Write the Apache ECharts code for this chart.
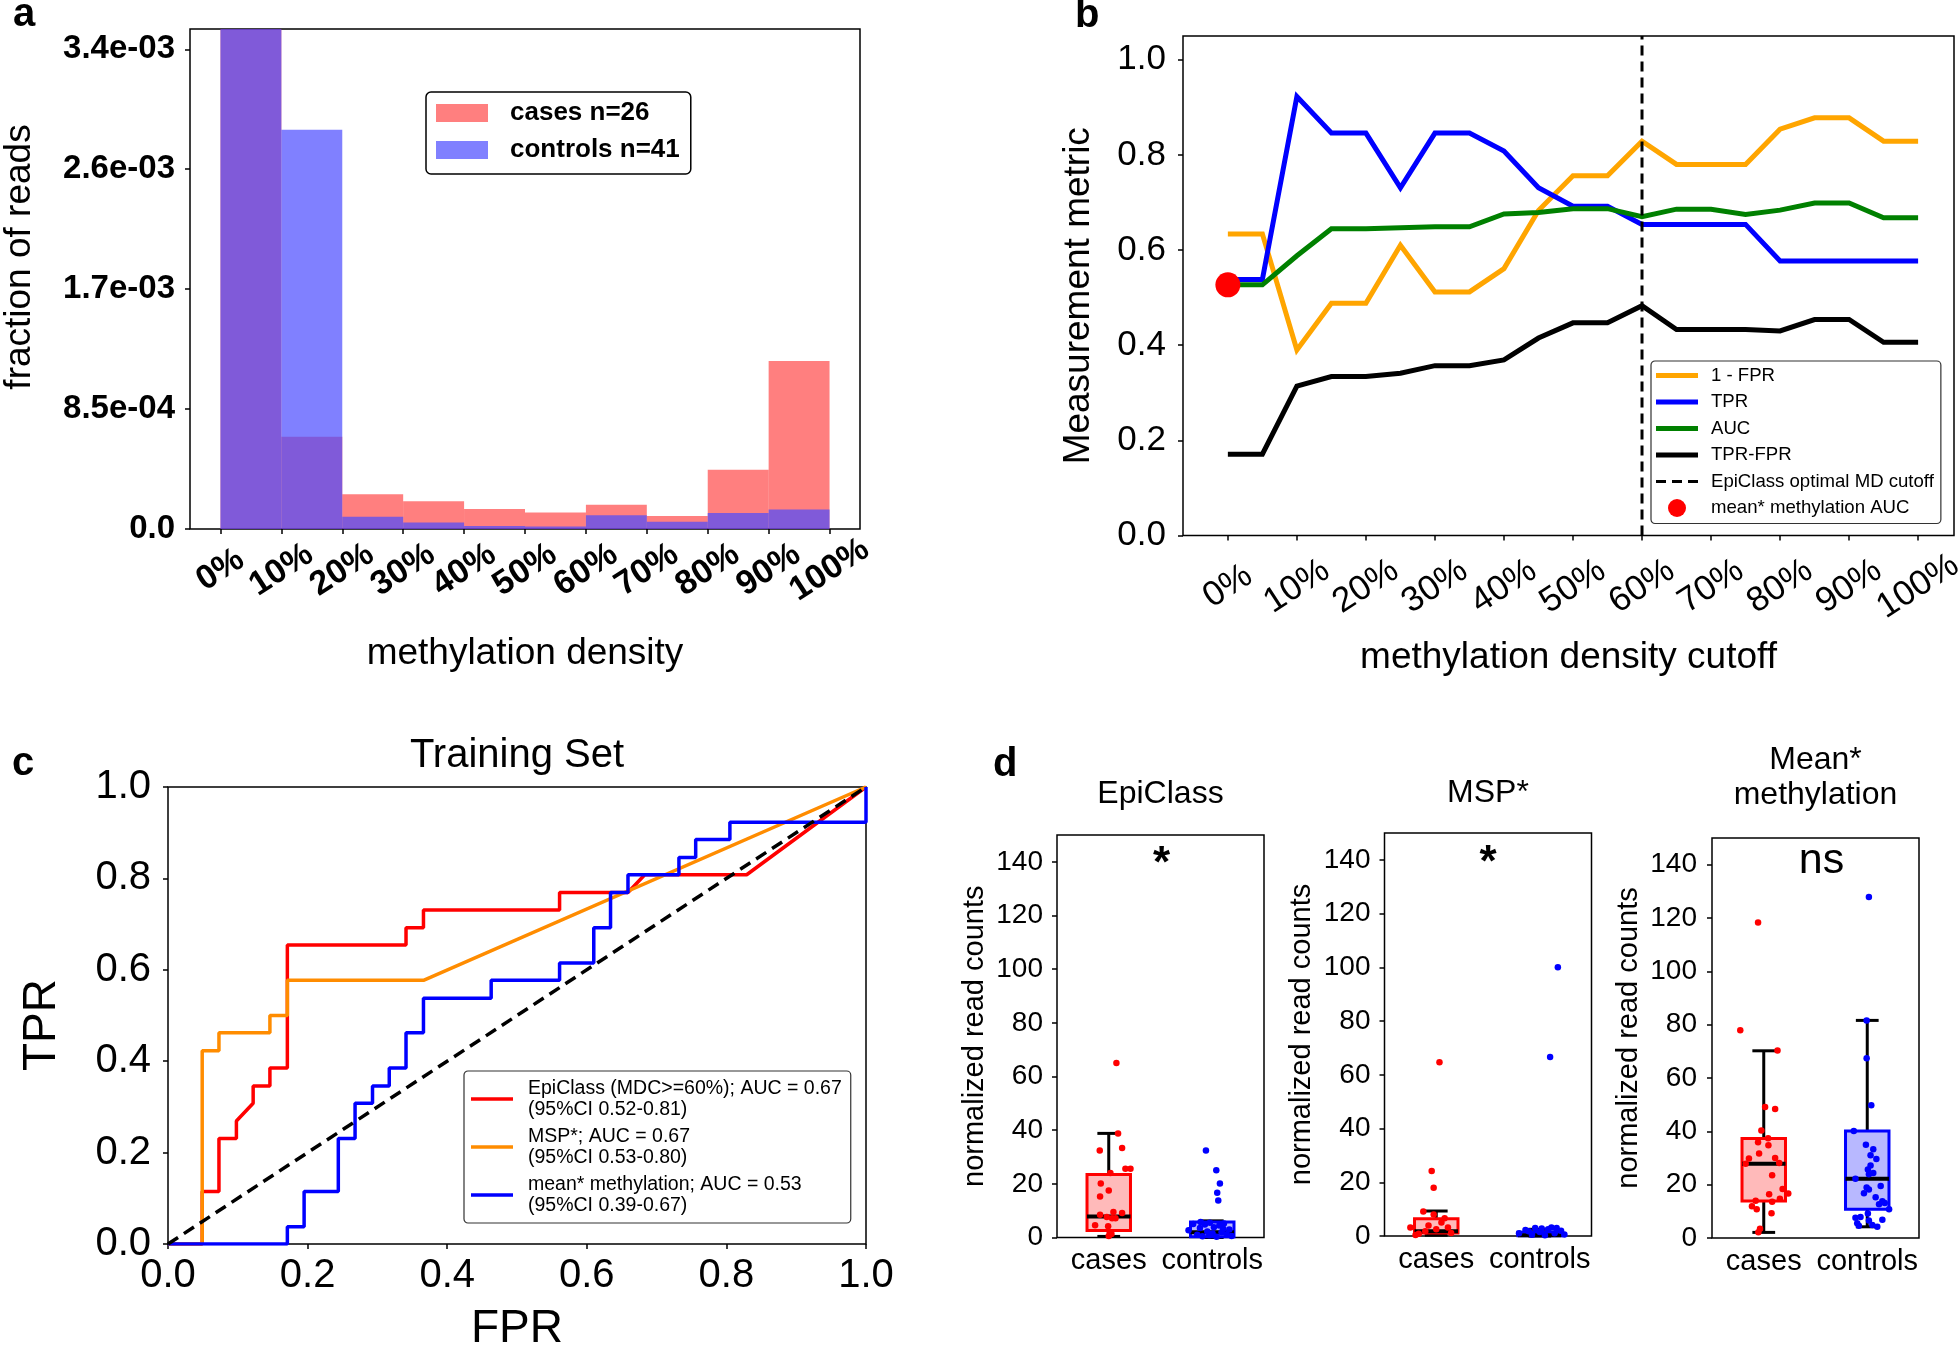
<!DOCTYPE html>
<html><head><meta charset="utf-8">
<script src="https://cdn.jsdelivr.net/npm/echarts@6/dist/echarts.min.js"></script>
<style>html,body{margin:0;padding:0;background:#fff}#c{width:1960px;height:1348px}</style>
</head><body><div id="c"></div>
<script>
const FONT = 'Liberation Sans, Arial, Helvetica, sans-serif';

// ---------- Panel a : histogram ----------
const histEdges = [0, 10, 20, 30, 40, 50, 60, 70, 80, 90, 100];
const casesHist = [0.0968, 6.54e-4, 2.46e-4, 1.96e-4, 1.41e-4, 1.17e-4, 1.72e-4, 9.2e-5, 4.2e-4, 1.19e-3];
const controlsHist = [0.0966, 2.83e-3, 8.6e-5, 4.6e-5, 2.1e-5, 1.8e-5, 9.8e-5, 5.2e-5, 1.14e-4, 1.38e-4];
const histYTicks = [0, 8.5e-4, 1.7e-3, 2.55e-3, 3.4e-3];
const histYTickLabels = ['0.0', '8.5e-04', '1.7e-03', '2.6e-03', '3.4e-03'];
const pctTicks = [0, 10, 20, 30, 40, 50, 60, 70, 80, 90, 100];

// ---------- Panel b : metrics vs cutoff ----------
const cutoffs = [0, 5, 10, 15, 20, 25, 30, 35, 40, 45, 50, 55, 60, 65, 70, 75, 80, 85, 90, 95, 100];
const oneMinusFPR = [0.634, 0.634, 0.390, 0.488, 0.488, 0.610, 0.512, 0.512, 0.561, 0.683, 0.756, 0.756, 0.829, 0.780, 0.780, 0.780, 0.854, 0.878, 0.878, 0.829, 0.829];
const tprVals = [0.538, 0.538, 0.923, 0.846, 0.846, 0.731, 0.846, 0.846, 0.808, 0.731, 0.692, 0.692, 0.654, 0.654, 0.654, 0.654, 0.577, 0.577, 0.577, 0.577, 0.577];
const aucVals = [0.527, 0.527, 0.588, 0.645, 0.645, 0.647, 0.649, 0.649, 0.676, 0.679, 0.687, 0.687, 0.670, 0.686, 0.686, 0.675, 0.684, 0.699, 0.699, 0.668, 0.668];
const tprMinusFpr = [0.171, 0.171, 0.314, 0.334, 0.334, 0.341, 0.357, 0.357, 0.369, 0.415, 0.447, 0.447, 0.483, 0.433, 0.433, 0.433, 0.430, 0.454, 0.454, 0.406, 0.406];
const optimalCutoff = 60;
const meanMethAUC = 0.527;
const metricTicks = [0, 0.2, 0.4, 0.6, 0.8, 1.0];

// ---------- Panel c : ROC ----------
const epiFPR = [0, 0.049, 0.049, 0.073, 0.073, 0.098, 0.098, 0.122, 0.122, 0.146, 0.146, 0.171, 0.171, 0.341, 0.341, 0.366, 0.366, 0.561, 0.561, 0.659, 0.683, 0.829, 1];
const epiTPR = [0, 0, 0.115, 0.115, 0.231, 0.231, 0.269, 0.308, 0.346, 0.346, 0.385, 0.385, 0.654, 0.654, 0.692, 0.692, 0.731, 0.731, 0.769, 0.769, 0.808, 0.808, 1];
const mspFPR = [0, 0.049, 0.049, 0.073, 0.073, 0.146, 0.146, 0.171, 0.171, 0.366, 1];
const mspTPR = [0, 0, 0.423, 0.423, 0.462, 0.462, 0.5, 0.5, 0.577, 0.577, 1];
const meanFPR = [0, 0.171, 0.171, 0.195, 0.195, 0.244, 0.244, 0.268, 0.268, 0.293, 0.293, 0.317, 0.317, 0.341, 0.341, 0.366, 0.366, 0.463, 0.463, 0.561, 0.561, 0.610, 0.610, 0.634, 0.634, 0.659, 0.659, 0.732, 0.732, 0.756, 0.756, 0.805, 0.805, 1, 1];
const meanTPR = [0, 0, 0.038, 0.038, 0.115, 0.115, 0.231, 0.231, 0.308, 0.308, 0.346, 0.346, 0.385, 0.385, 0.462, 0.462, 0.538, 0.538, 0.577, 0.577, 0.615, 0.615, 0.692, 0.692, 0.769, 0.769, 0.808, 0.808, 0.846, 0.846, 0.885, 0.885, 0.923, 0.923, 1];
const rocNames = ['EpiClass', 'MSP*', 'mean* methylation'];
const rocLabels = ['EpiClass (MDC>=60%); AUC = 0.67\n(95%CI 0.52-0.81)', 'MSP*; AUC = 0.67\n(95%CI 0.53-0.80)', 'mean* methylation; AUC = 0.53\n(95%CI 0.39-0.67)'];

// ---------- Panel d : box plots ----------
const groups = ['cases', 'controls'];
const countTicks = [0, 20, 40, 60, 80, 100, 120, 140];
// box stats: [lower whisker, Q1, median, Q3, upper whisker]
const epiBoxCases = [0.4, 2.6, 7.8, 23.5, 38.8];
const epiBoxControls = [0, 0.3, 2.0, 5.8, 6.2];
const mspBoxCases = [0.3, 1.1, 1.8, 6.4, 9.3];
const mspBoxControls = [0, 0.1, 0.3, 1.4, 2.5];
const meanBoxCases = [2.1, 13.9, 27.8, 37.3, 70.2];
const meanBoxControls = [4.2, 10.8, 22.2, 40.1, 81.6];
// individual points (value) and horizontal jitter (category units)
const epiCasesVals = [65, 38.8, 32.4, 33.4, 25.6, 25.6, 24, 20.1, 17.5, 15.3, 9.5, 9.1, 8.5, 7.6, 7.2, 7.2, 4.6, 4.2, 2.0, 1.3, 0.6];
const epiCasesJit = [0.074, 0.090, -0.087, 0.129, 0.161, 0.210, 0.016, -0.077, 0, -0.084, 0.045, 0.129, -0.084, -0.019, 0.032, 0.065, -0.132, -0.006, 0.010, 0.026, 0];
const epiCtrlVals = [32.4, 25.1, 20.1, 16.7, 13.8, 2.7, 5.0, 1.0, 3.5, 0.5, 4.8, 2.2, 5.5, 1.5, 3.8, 0.3, 4.5, 2.0, 5.2, 1.2, 3.0, 0.6, 5.8, 0.8, 3.3];
const epiCtrlJit = [-0.061, 0.039, 0.074, 0.048, 0.058, -0.229, -0.184, -0.145, -0.119, -0.094, -0.071, -0.048, -0.023, 0.003, 0.016, 0.042, 0.068, 0.090, 0.113, 0.139, 0.165, 0.187, -0.113, -0.029, 0.106];
const mspCasesVals = [64.7, 24.2, 18.0, 9.1, 8.0, 5.0, 3.2, 3.2, 3.9, 6.6, 1.8, 0.4, 1.1, 2.5, 0.8];
const mspCasesJit = [0.031, -0.044, -0.025, -0.125, -0.025, 0.05, -0.25, 0.113, -0.075, 0.081, -0.106, -0.2, 0.144, 0, -0.169];
const mspCtrlVals = [100, 66.6, 1.0, 2.2, 0.5, 3.0, 1.5, 0.3, 2.5, 3.2, 1.0, 2.0, 0.6, 3.0, 1.8, 2.8];
const mspCtrlJit = [0.175, 0.1, -0.2, -0.138, -0.075, -0.044, 0, 0.05, 0.081, 0.113, 0.144, 0.206, 0.238, 0.163, -0.106, 0.019];
const meanCasesVals = [118.3, 77.9, 70.3, 49.1, 48.4, 40.3, 37.4, 35.9, 34.8, 31.7, 29.8, 30, 27.8, 28.1, 23.5, 18.4, 16.7, 16.4, 14.7, 14.0, 13.6, 11.9, 10.8, 9.3, 3.5, 2.2];
const meanCasesJit = [-0.055, -0.227, 0.133, 0.013, 0.110, -0.023, 0.042, -0.055, 0.045, -0.045, -0.143, 0.110, -0.175, 0.149, 0.081, 0.182, 0.237, 0.052, 0.156, -0.078, 0.081, -0.114, -0.068, 0.075, -0.036, -0.052];
const meanCtrlVals = [127.9, 81.6, 67.4, 49.8, 40.1, 35.0, 33.3, 31.0, 29.6, 27.2, 25.7, 24.4, 23.9, 22.2, 19.5, 18.9, 18.2, 16.8, 15.3, 13.8, 12.7, 13.1, 10.8, 9.2, 7.6, 7.9, 6.8, 6.6, 4.6, 4.2, 4.9, 5.5];
const meanCtrlJit = [0.016, -0.006, -0.006, 0.039, -0.130, -0.013, 0.058, 0.032, 0.088, 0.032, 0.006, 0.058, 0.016, -0.114, 0.130, -0.006, 0.016, -0.032, 0.081, 0.146, 0.114, 0.169, 0.211, 0.006, -0.114, -0.065, 0.146, 0.016, -0.081, 0.097, 0.049, -0.097];
const dTitles = ['EpiClass', 'MSP*', 'Mean*\nmethylation'];
const dSignif = ['*', '*', 'ns'];

// ================= build option =================
const tickStyle = { lineStyle: { color: '#000', width: 1.5 } };
const lab = (size, bold) => ({ fontFamily: FONT, fontSize: size, color: '#000', fontWeight: bold ? 'bold' : 'normal' });
const noLine = { show: false, onZero: false };

const gridA = { left: 190, top: 29, width: 670, height: 500 };
const grids = [
  gridA,
  { left: 1183, top: 36, width: 771, height: 499.5 },
  { left: 168, top: 787, width: 698, height: 457 },
  { left: 1057, top: 835, width: 207, height: 402.5 },
  { left: 1384.5, top: 833, width: 207, height: 403 },
  { left: 1712, top: 838, width: 207, height: 400 }
].map(g => Object.assign({}, g, { show: true, borderColor: '#000', borderWidth: 1.5, backgroundColor: 'transparent', containLabel: false, outerBoundsMode: 'none' }));
// twin of panel a's grid that carries the odd percentage labels (so neighbouring rotated labels never get auto-hidden)
grids.push(Object.assign({}, gridA, { show: false, containLabel: false, outerBoundsMode: 'none' }));

function valueAxis(opts) {
  return Object.assign({
    type: 'value', axisLine: noLine, splitLine: { show: false },
    nameMoveOverlap: false, nameLocation: 'middle'
  }, opts);
}

const rotLabel = (values, margin, size, bold) => Object.assign({
  customValues: values, formatter: v => v + '%', rotate: 33, align: 'center', verticalAlign: 'middle',
  margin, showMinLabel: true, showMaxLabel: true, hideOverlap: false
}, lab(size, bold));
const pctEven = pctTicks.filter((t, i) => i % 2 === 0);
const pctOdd = pctTicks.filter((t, i) => i % 2 === 1);

const xAxes = [
  valueAxis({ gridIndex: 0, min: -5, max: 105,
    axisTick: Object.assign({ customValues: pctTicks, length: 5 }, tickStyle),
    axisLabel: rotLabel(pctEven, 41, 34, true),
    name: 'methylation density', nameGap: 106, nameTextStyle: lab(37) }),
  valueAxis({ gridIndex: 1, min: -6.5, max: 105.2,
    axisTick: Object.assign({ customValues: pctTicks, length: 5 }, tickStyle),
    axisLabel: Object.assign(rotLabel(pctTicks, 51, 35, false), { lineHeight: 30 }),
    name: 'methylation density cutoff', nameGap: 104, nameTextStyle: lab(37) }),
  valueAxis({ gridIndex: 2, min: 0, max: 1, interval: 0.2,
    axisTick: Object.assign({ length: 5 }, tickStyle),
    axisLabel: Object.assign({ formatter: v => v.toFixed(1), margin: 12, showMinLabel: true, showMaxLabel: true }, lab(40)),
    name: 'FPR', nameGap: 62, nameTextStyle: lab(46) })
];
const yAxes = [
  valueAxis({ gridIndex: 0, min: 0, max: 3.544e-3,
    axisTick: Object.assign({ customValues: histYTicks, length: 5 }, tickStyle),
    axisLabel: Object.assign({ customValues: histYTicks, margin: 15, showMinLabel: true,
      formatter: v => { let k = 0; histYTicks.forEach((t, i) => { if (Math.abs(t - v) < Math.abs(histYTicks[k] - v)) k = i; }); return histYTickLabels[k]; } }, lab(33, true)),
    name: 'fraction of reads', nameGap: 152, nameTextStyle: Object.assign(lab(37), { padding: [0, 0, 0, 44] }) }),
  valueAxis({ gridIndex: 1, min: 0, max: 1.05,
    axisTick: Object.assign({ customValues: metricTicks, length: 5 }, tickStyle),
    axisLabel: Object.assign({ customValues: metricTicks, formatter: v => v.toFixed(1), margin: 17, showMinLabel: true }, lab(35)),
    name: 'Measurement metric', nameGap: 86, nameTextStyle: Object.assign(lab(37), { padding: [0, 20, 0, 0] }) }),
  valueAxis({ gridIndex: 2, min: 0, max: 1, interval: 0.2,
    axisTick: Object.assign({ length: 5 }, tickStyle),
    axisLabel: Object.assign({ formatter: v => v.toFixed(1), margin: 17, showMinLabel: true, showMaxLabel: true }, lab(40)),
    name: 'TPR', nameGap: 103, nameTextStyle: Object.assign(lab(46), { padding: [0, 19, 0, 0] }) })
];
const dNameGap = [68, 68, 69];
const dLabelMargin = [14, 14, 15];
for (let k = 0; k < 3; k++) {
  const gi = 3 + k;
  xAxes.push({ type: 'category', gridIndex: gi, data: groups, boundaryGap: true,
    axisLine: noLine, splitLine: { show: false },
    axisTick: Object.assign({ alignWithLabel: true, length: 5 }, tickStyle),
    axisLabel: Object.assign({ margin: 9, interval: 0 }, lab(29)) });
  xAxes.push({ type: 'value', gridIndex: gi, min: -0.5, max: 1.5, show: false, axisLine: noLine });
  yAxes.push(valueAxis({ gridIndex: gi, min: 0, max: 150,
    axisTick: Object.assign({ customValues: countTicks, length: 5 }, tickStyle),
    axisLabel: Object.assign({ customValues: countTicks, margin: dLabelMargin[k], showMinLabel: true }, lab(28)),
    name: 'normalized read counts', nameGap: dNameGap[k], nameTextStyle: lab(29) }));
}
// twin axes for panel a (odd labels only)
xAxes.push(valueAxis({ gridIndex: 6, min: -5, max: 105, axisTick: { show: false },
  axisLabel: rotLabel(pctOdd, 41, 34, true) }));
yAxes.push(valueAxis({ gridIndex: 6, min: 0, max: 3.544e-3, show: false }));

function histSeries(name, vals, color) {
  return {
    type: 'custom', name, xAxisIndex: 0, yAxisIndex: 0, clip: true,
    itemStyle: { color }, encode: { x: [0, 1], y: 2 },
    data: vals.map((v, i) => [histEdges[i], histEdges[i + 1], v]),
    renderItem: (params, api) => {
      const p0 = api.coord([api.value(0), api.value(2)]);
      const p1 = api.coord([api.value(1), 0]);
      return { type: 'rect', shape: { x: p0[0], y: p0[1], width: p1[0] - p0[0], height: p1[1] - p0[1] }, style: { fill: api.visual('color') } };
    }
  };
}

function metricLine(name, vals, color) {
  return { type: 'line', name, xAxisIndex: 1, yAxisIndex: 1, symbol: 'none',
    data: cutoffs.map((c, i) => [c, vals[i]]),
    lineStyle: { color, width: 5, join: 'miter' }, itemStyle: { color } };
}

function rocLine(name, fpr, tpr, color) {
  return { type: 'line', name, xAxisIndex: 2, yAxisIndex: 2, symbol: 'none',
    data: fpr.map((f, i) => [f, tpr[i]]),
    lineStyle: { color, width: 3.5 }, itemStyle: { color } };
}

const boxEdge = ['#ff0000', '#0000ff'];
const boxFill = ['rgba(255,0,0,0.27)', 'rgba(0,0,255,0.28)'];
function boxSeries(k, casesStats, ctrlStats) {
  return {
    type: 'custom', name: 'box' + k, xAxisIndex: 4 + 2 * k, yAxisIndex: 3 + k,
    encode: { x: 0, y: [1, 2, 3, 4, 5] },
    data: [[0].concat(casesStats), [1].concat(ctrlStats)],
    renderItem: (params, api) => {
      const i = params.dataIndex;
      const x = api.value(0);
      const lo = api.coord([x, api.value(1)]), q1 = api.coord([x, api.value(2)]),
            md = api.coord([x, api.value(3)]), q3 = api.coord([x, api.value(4)]),
            hi = api.coord([x, api.value(5)]);
      const bw = api.size([0.42, 0])[0], cw = api.size([0.22, 0])[0];
      const cx = lo[0];
      const blk = { stroke: '#000', lineWidth: 3 };
      return { type: 'group', children: [
        { type: 'line', shape: { x1: cx, y1: q1[1], x2: cx, y2: lo[1] }, style: blk },
        { type: 'line', shape: { x1: cx, y1: q3[1], x2: cx, y2: hi[1] }, style: blk },
        { type: 'line', shape: { x1: cx - cw / 2, y1: lo[1], x2: cx + cw / 2, y2: lo[1] }, style: blk },
        { type: 'line', shape: { x1: cx - cw / 2, y1: hi[1], x2: cx + cw / 2, y2: hi[1] }, style: blk },
        { type: 'rect', shape: { x: cx - bw / 2, y: q3[1], width: bw, height: q1[1] - q3[1] }, style: { fill: boxFill[i], stroke: boxEdge[i], lineWidth: 3 } },
        { type: 'line', shape: { x1: cx - bw / 2, y1: md[1], x2: cx + bw / 2, y2: md[1] }, style: { stroke: '#000', lineWidth: 4 } }
      ] };
    }
  };
}
function pointSeries(k, pos, vals, jit, color) {
  return { type: 'scatter', name: 'pts' + k + pos, xAxisIndex: 4 + 2 * k, yAxisIndex: 3 + k,
    symbol: 'circle', symbolSize: 6.5, itemStyle: { color, opacity: 1 },
    data: vals.map((v, i) => [pos + jit[i], v]) };
}

const series = [
  histSeries('cases n=26', casesHist, 'rgba(255,0,0,0.5)'),
  histSeries('controls n=41', controlsHist, 'rgba(74,74,255,0.7)'),
  metricLine('1 - FPR', oneMinusFPR, '#ffa500'),
  metricLine('TPR', tprVals, '#0000ff'),
  metricLine('AUC', aucVals, '#008000'),
  metricLine('TPR-FPR', tprMinusFpr, '#000000'),
  { type: 'line', name: 'EpiClass optimal MD cutoff', xAxisIndex: 1, yAxisIndex: 1, symbol: 'none',
    data: [[optimalCutoff, 0], [optimalCutoff, 1.05]],
    lineStyle: { color: '#000', width: 3, type: [10, 6] }, itemStyle: { color: '#000' } },
  { type: 'scatter', name: 'mean* methylation AUC', xAxisIndex: 1, yAxisIndex: 1, symbol: 'circle',
    symbolSize: 25, data: [[0, meanMethAUC]], itemStyle: { color: '#ff0000', opacity: 1 }, z: 5 },
  rocLine(rocNames[0], epiFPR, epiTPR, '#ff0000'),
  rocLine(rocNames[1], mspFPR, mspTPR, '#ff8c00'),
  rocLine(rocNames[2], meanFPR, meanTPR, '#0000ff'),
  { type: 'line', name: 'chance', xAxisIndex: 2, yAxisIndex: 2, symbol: 'none',
    data: [[0, 0], [1, 1]], lineStyle: { color: '#000', width: 3.5, type: [12, 7] } },
  boxSeries(0, epiBoxCases, epiBoxControls),
  pointSeries(0, 0, epiCasesVals, epiCasesJit, '#ff0000'),
  pointSeries(0, 1, epiCtrlVals, epiCtrlJit, '#0000ff'),
  boxSeries(1, mspBoxCases, mspBoxControls),
  pointSeries(1, 0, mspCasesVals, mspCasesJit, '#ff0000'),
  pointSeries(1, 1, mspCtrlVals, mspCtrlJit, '#0000ff'),
  boxSeries(2, meanBoxCases, meanBoxControls),
  pointSeries(2, 0, meanCasesVals, meanCasesJit, '#ff0000'),
  pointSeries(2, 1, meanCtrlVals, meanCtrlJit, '#0000ff')
];

// legend icons: thick bar for solid lines, three dashes for the dashed line
const barIcon5 = 'path://M0,0h42v5h-42z';
const barIcon3 = 'path://M0,0h42v3.5h-42z';
const dashIcon = 'path://M0,0h10v3h-10z M16,0h10v3h-10z M32,0h10v3h-10z';
const legends = [
  { orient: 'vertical', left: 426, top: 92, data: ['cases n=26', 'controls n=41'], selectedMode: false,
    icon: 'rect', itemWidth: 52, itemHeight: 18, itemGap: 11, padding: [8, 11, 11, 10], symbolKeepAspect: false,
    borderColor: '#000', borderWidth: 1.5, borderRadius: 5, backgroundColor: '#fff',
    textStyle: Object.assign(lab(26, true), { padding: [0, 0, 0, 17] }) },
  { orient: 'vertical', left: 1651, top: 361, selectedMode: false, symbolKeepAspect: true,
    data: [
      { name: '1 - FPR', icon: barIcon5 }, { name: 'TPR', icon: barIcon5 }, { name: 'AUC', icon: barIcon5 },
      { name: 'TPR-FPR', icon: barIcon5 }, { name: 'EpiClass optimal MD cutoff', icon: dashIcon },
      { name: 'mean* methylation AUC', icon: 'circle' }
    ],
    itemWidth: 42, itemHeight: 18, itemGap: 7.5, padding: [5, 7, 6, 5],
    borderColor: '#333', borderWidth: 1.2, borderRadius: 4, backgroundColor: 'rgba(255,255,255,0.85)',
    textStyle: Object.assign(lab(18.6), { padding: [0, 0, 0, 8] }) },
  { orient: 'vertical', left: 464, top: 1071, selectedMode: false, symbolKeepAspect: true,
    data: rocNames.map(n => ({ name: n, icon: barIcon3 })),
    formatter: name => rocLabels[rocNames.indexOf(name)],
    itemWidth: 42, itemHeight: 14, itemGap: 6, padding: [7, 9, 7, 7],
    borderColor: '#333', borderWidth: 1.2, borderRadius: 4, backgroundColor: 'rgba(255,255,255,0.85)',
    textStyle: Object.assign(lab(19.5), { lineHeight: 21, padding: [0, 0, 0, 10] }) }
];

const txt = (x, y, text, size, bold, extra) => ({ type: 'text', x, y, silent: true,
  style: Object.assign({ text, fontFamily: FONT, fontSize: size, fontWeight: bold ? 'bold' : 'normal', fill: '#000', align: 'center', verticalAlign: 'middle' }, extra || {}) });
const graphic = [
  txt(13, 15, 'a', 40, true, { align: 'left' }),
  txt(1075, 16, 'b', 40, true, { align: 'left' }),
  txt(12, 764, 'c', 40, true, { align: 'left' }),
  txt(993, 765, 'd', 40, true, { align: 'left' }),
  txt(517, 756, 'Training Set', 40, false),
  txt(1160.5, 794, dTitles[0], 32, false),
  txt(1488, 793, dTitles[1], 32, false),
  txt(1815.5, 778, dTitles[2], 32, false, { lineHeight: 35 }),
  txt(1161.5, 865, dSignif[0], 44, true),
  txt(1488, 864, dSignif[1], 44, true),
  txt(1821.5, 861, dSignif[2], 43, false)
];

const chart = echarts.init(document.getElementById('c'), null, { renderer: 'canvas', width: 1960, height: 1348 });
chart.setOption({
  animation: false, backgroundColor: '#fff',
  textStyle: { fontFamily: FONT },
  grid: grids, xAxis: xAxes, yAxis: yAxes, series, legend: legends, graphic
});
</script></body></html>
